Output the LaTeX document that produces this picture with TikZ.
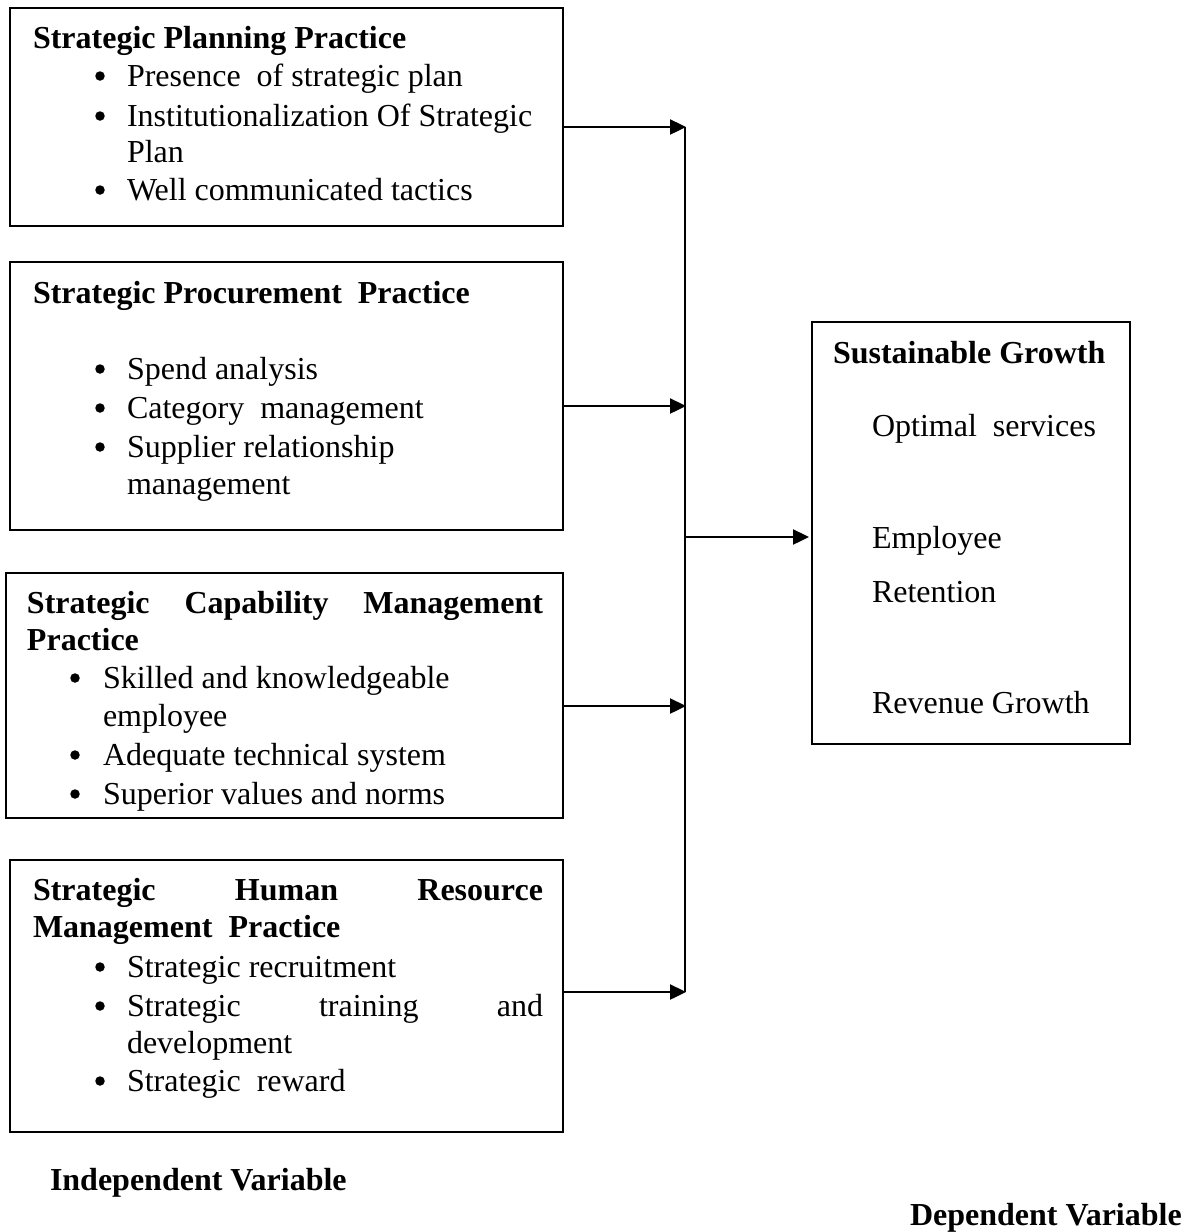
\documentclass[tikz,border=0pt]{standalone}
\usepackage{fontspec}
\setmainfont{Liberation Serif}
\usetikzlibrary{arrows.meta}
\begin{document}
\begin{tikzpicture}[x=1pt,y=-1pt,
  box/.style={draw=black,line width=1.8pt,rectangle,anchor=north west,inner sep=0pt,outer sep=0pt},
  txt/.style={anchor=base west,inner sep=0pt,outer sep=0pt,font=\fontsize{32}{37}\selectfont},
  hd/.style={txt,font=\fontsize{32}{37}\selectfont\bfseries},
  bul/.style={circle,fill=black,inner sep=0pt,minimum size=9.5pt,outer sep=0pt},
  arr/.style={line width=2.4pt,-{Triangle[length=16pt,width=15pt]}},
  bus/.style={line width=2.4pt}]
\useasboundingbox (0,0) rectangle (1198,1232);
\fill[white] (0,0) rectangle (1198,1232);
% boxes
\node[box,minimum width=553pt,minimum height=218pt] (b1) at (10,8) {};
\node[box,minimum width=553pt,minimum height=268pt] (b2) at (10,262) {};
\node[box,minimum width=557pt,minimum height=245pt] (b3) at (6,573) {};
\node[box,minimum width=553pt,minimum height=272pt] (b4) at (10,860) {};
\node[box,minimum width=318pt,minimum height=422pt] (out) at (812,322) {};
% box 1 text
\node[hd] (t1) at (33,48) {Strategic Planning Practice};
\node[bul] (d11) at (100,76) {};
\node[txt] (t11) at (127,86) {Presence\ \ of strategic plan};
\node[bul] (d12) at (100,116) {};
\node[txt] (t12) at (127,126) {Institutionalization Of Strategic};
\node[txt] (t12b) at (127,162) {Plan};
\node[bul] (d13) at (100,190) {};
\node[txt] (t13) at (127,200) {Well communicated tactics};
% box 2 text
\node[hd] (t2) at (33,303) {Strategic Procurement\ \ Practice};
\node[bul] (d21) at (100,369) {};
\node[txt] (t21) at (127,379) {Spend analysis};
\node[bul] (d22) at (100,408) {};
\node[txt] (t22) at (127,418) {Category\ \ management};
\node[bul] (d23) at (100,447) {};
\node[txt] (t23) at (127,457) {Supplier relationship};
\node[txt] (t23b) at (127,494) {management};
% box 3 text
\node[hd] (t3) at (27,613) {\hbox to 516pt{Strategic\hfill Capability\hfill Management}};
\node[hd] (t3b) at (27,650) {Practice};
\node[bul] (d31) at (75,678) {};
\node[txt] (t31) at (103,688) {Skilled and knowledgeable};
\node[txt] (t31b) at (103,726) {employee};
\node[bul] (d32) at (75,755) {};
\node[txt] (t32) at (103,765) {Adequate technical system};
\node[bul] (d33) at (75,794) {};
\node[txt] (t33) at (103,804) {Superior values and norms};
% box 4 text
\node[hd] (t4) at (33,900) {\hbox to 510pt{Strategic\hfill Human\hfill Resource}};
\node[hd] (t4b) at (33,937) {Management\ \ Practice};
\node[bul] (d41) at (100,967) {};
\node[txt] (t41) at (127,977) {Strategic recruitment};
\node[bul] (d42) at (100,1006) {};
\node[txt] (t42) at (127,1016) {\hbox to 416pt{Strategic\hfill training\hfill and}};
\node[txt] (t42b) at (127,1053) {development};
\node[bul] (d43) at (100,1081) {};
\node[txt] (t43) at (127,1091) {Strategic\ \ reward};
% dependent box text
\node[hd] (to) at (833,363) {Sustainable Growth};
\node[txt] (o1) at (872,436) {Optimal\ \ services};
\node[txt] (o2) at (872,548) {Employee};
\node[txt] (o2b) at (872,602) {Retention};
\node[txt] (o3) at (872,713) {Revenue Growth};
% labels
\node[hd] (iv) at (50,1190) {Independent Variable};
\node[hd] (dv) at (910,1225) {Dependent Variable};
% connectors
\coordinate (j1) at (686,127);
\coordinate (j2) at (686,406);
\coordinate (j3) at (686,706);
\coordinate (j4) at (686,992);
\coordinate (jm) at (686,537);
\draw[bus] (684.8,127) -- (684.8,992);
\draw[arr] (b1.east |- j1) -- (j1);
\draw[arr] (b2.east |- j2) -- (j2);
\draw[arr] (b3.east |- j3) -- (j3);
\draw[arr] (b4.east |- j4) -- (j4);
\draw[arr] (jm) -- ([xshift=-3pt]out.west |- jm);
\end{tikzpicture}
\end{document}
